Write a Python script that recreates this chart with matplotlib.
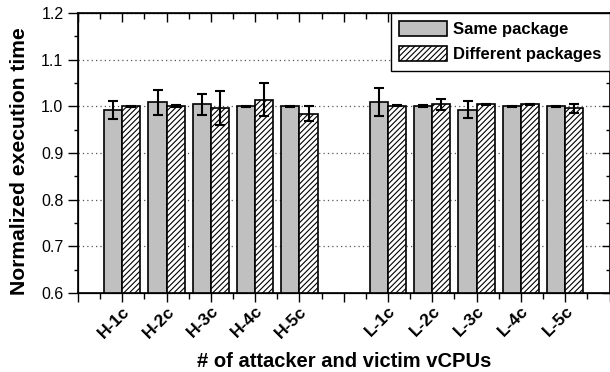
import matplotlib
matplotlib.use("Agg")
import matplotlib.pyplot as plt
import matplotlib.transforms as mtransforms
import numpy as np

plt.rcParams['font.family'] = ['Liberation Sans', 'DejaVu Sans']
plt.rcParams['hatch.linewidth'] = 0.8

# datos
grupos = ["H-1c", "H-2c", "H-3c", "H-4c", "H-5c", "L-1c", "L-2c", "L-3c", "L-4c", "L-5c"]
posiciones = [1, 2, 3, 4, 5, 7, 8, 9, 10, 11]

mismo = [0.992, 1.009, 1.004, 1.000, 1.000, 1.009, 1.000, 0.993, 1.000, 1.000]
mismo_err = [0.020, 0.027, 0.022, 0.001, 0.001, 0.030, 0.002, 0.018, 0.001, 0.001]

distinto = [1.000, 1.000, 0.996, 1.014, 0.984, 1.001, 1.004, 1.004, 1.004, 0.996]
distinto_err = [0.001, 0.002, 0.037, 0.035, 0.016, 0.001, 0.012, 0.001, 0.001, 0.010]

ancho = 0.41
pos = np.array(posiciones, dtype=float)

fig = plt.figure(figsize=(6.1, 3.72), dpi=100)
ax = fig.add_axes([78 / 610, 1 - 293 / 372, (609.5 - 78) / 610, (293 - 13) / 372])

ax.bar(pos - ancho / 2, mismo, ancho, color="#c0c0c0", edgecolor="black",
       linewidth=1.2, label="Same package", zorder=2)
ax.bar(pos + ancho / 2, distinto, ancho, color="white", edgecolor="black",
       linewidth=1.2, hatch="//////", label="Different packages", zorder=2)

ax.errorbar(pos - ancho / 2, mismo, yerr=mismo_err, fmt="none", ecolor="black",
            elinewidth=1.5, capsize=3.3, capthick=1.5, zorder=3)
ax.errorbar(pos + ancho / 2, distinto, yerr=distinto_err, fmt="none", ecolor="black",
            elinewidth=1.5, capsize=3.3, capthick=1.5, zorder=3)

ax.set_xlim(0, 12)
ax.set_ylim(0.6, 1.2)

ax.set_xticks(range(0, 13))
etiquetas = [""] * 13
for p, g in zip(posiciones, grupos):
    etiquetas[p] = g
ax.set_xticklabels(etiquetas, rotation=45, ha="right", rotation_mode="anchor",
                   fontsize=12.5, fontweight="bold")
desplaza = mtransforms.ScaledTranslation(5 / 72, 0, fig.dpi_scale_trans)
for t in ax.get_xticklabels():
    t.set_transform(t.get_transform() + desplaza)
ax.set_xticks(np.arange(0.5, 12, 1), minor=True)
ax.set_yticks(np.arange(0.6, 1.21, 0.1))
ax.set_yticklabels(["%.1f" % v for v in np.arange(0.6, 1.21, 0.1)], fontsize=11.5)
ax.set_yticks(np.arange(0.65, 1.2, 0.1), minor=True)

ax.tick_params(axis="x", which="major", direction="out", length=6.5, width=1.0, pad=1)
ax.tick_params(axis="x", which="minor", direction="out", length=4, width=1.0)
ax.tick_params(axis="y", which="major", direction="out", length=7.5, width=1.0, pad=3)
ax.tick_params(axis="y", which="minor", direction="out", length=3, width=1.0)

for s in ax.spines.values():
    s.set_linewidth(1.2)

ax.yaxis.grid(True, which="major", linestyle=(0, (1, 2.5)), color="#555555", linewidth=0.9)
ax.set_axisbelow(True)

# ticks hacia dentro arriba y a la derecha
arriba = ax.twiny()
arriba.set_xlim(0, 12)
arriba.set_xticks(range(0, 13))
arriba.set_xticks(np.arange(0.5, 12, 1), minor=True)
arriba.tick_params(axis="x", which="major", direction="in", length=6.5, width=1.0, labeltop=False)
arriba.tick_params(axis="x", which="minor", direction="in", length=4, width=1.0)

derecha = ax.twinx()
derecha.set_ylim(0.6, 1.2)
derecha.set_yticks(np.arange(0.6, 1.21, 0.1))
derecha.set_yticks(np.arange(0.65, 1.2, 0.1), minor=True)
derecha.tick_params(axis="y", which="major", direction="in", length=5.5, width=1.0, labelright=False)
derecha.tick_params(axis="y", which="minor", direction="in", length=3, width=1.0)

ax.set_xlabel("# of attacker and victim vCPUs", fontsize=14.5, fontweight="bold", labelpad=8)
ax.set_ylabel("Normalized execution time", fontsize=15.2, fontweight="bold", labelpad=9)
ax.yaxis.label.set_y(0.47)

leg = derecha.legend(*ax.get_legend_handles_labels(), loc="upper right", borderaxespad=0,
                     prop={"weight": "bold", "size": 12}, fancybox=False, framealpha=1,
                     edgecolor="black", handlelength=2.9, handleheight=0.95,
                     handletextpad=0.33, labelspacing=0.55, borderpad=0.5)
leg.get_frame().set_linewidth(1.0)

fig.savefig("out.png", dpi=100)
